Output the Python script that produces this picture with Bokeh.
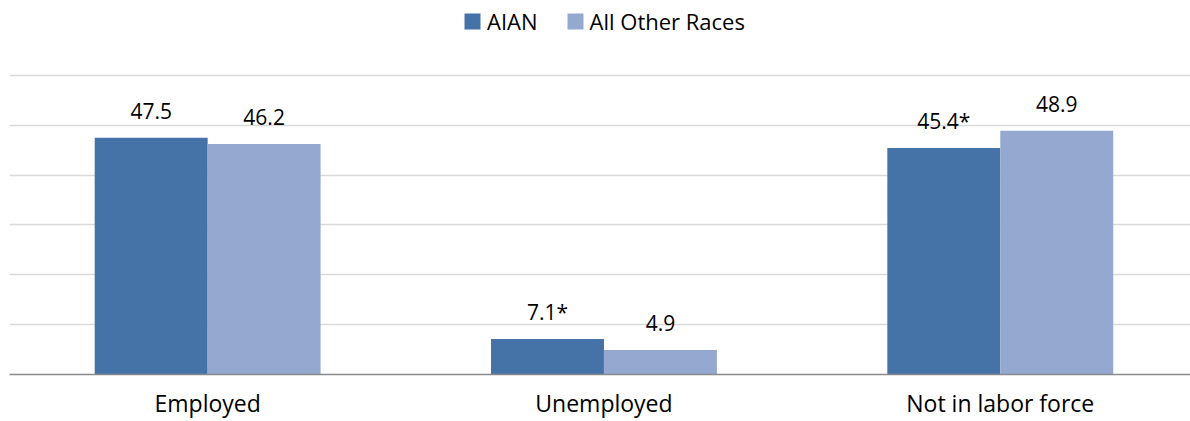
from bokeh.plotting import figure
from bokeh.models import ColumnDataSource, FixedTicker, Grid, Legend, LegendItem, Range1d
from bokeh.transform import dodge
from bokeh.core.properties import value
from bokeh.embed import file_html
from bokeh.resources import INLINE

categories = ["Employed", "Unemployed", "Not in labor force"]
aian = [47.5, 7.1, 45.4]
aian_labels = ["47.5", "7.1*", "45.4*"]
other = [46.2, 4.9, 48.9]
other_labels = ["46.2", "4.9", "48.9"]
series_names = ["AIAN", "All Other Races"]
colors = ["#4673A7", "#95A9D0"]
grid_ticks = [10, 20, 30, 40, 50, 60]

FONT = "Open Sans"
xpos = [i + 0.5 for i in range(len(categories))]

source = ColumnDataSource(dict(
    x=xpos, aian=aian, other=other,
    aian_lbl=aian_labels, other_lbl=other_labels,
))

p = figure(width=1190, height=421, output_backend="svg", toolbar_location=None,
           x_range=Range1d(0, 2.98), y_range=Range1d(0, 75.0),
           y_axis_location=None,
           min_border_left=9, min_border_right=0, min_border_top=0, min_border_bottom=46)
p.outline_line_color = None
p.xgrid.visible = False
for g in p.ygrid:
    g.visible = False

grid = Grid(dimension=1, ticker=FixedTicker(ticks=grid_ticks),
            grid_line_color="#d9d9d9", grid_line_width=1.5)
p.add_layout(grid)

bw = 0.285
r1 = p.vbar(x=dodge("x", -bw / 2), top="aian", width=bw, source=source,
            fill_color=colors[0], line_color=None)
r2 = p.vbar(x=dodge("x", bw / 2), top="other", width=bw, source=source,
            fill_color=colors[1], line_color=None)

p.text(x=dodge("x", -bw / 2), y="aian", text="aian_lbl", source=source,
       text_align="center", text_baseline="alphabetic", y_offset=-27,
       text_font=value(FONT), text_font_size="21px", text_color="#000000")
p.text(x=dodge("x", bw / 2), y="other", text="other_lbl", source=source,
       text_align="center", text_baseline="alphabetic", y_offset=-27,
       text_font=value(FONT), text_font_size="21px", text_color="#000000")

ax = p.xaxis[0]
ax.ticker = FixedTicker(ticks=xpos)
ax.major_label_overrides = {xv: c for xv, c in zip(xpos, categories)}
ax.major_tick_line_color = None
ax.minor_tick_line_color = None
ax.major_tick_in = 0
ax.major_tick_out = 0
ax.axis_line_color = "#898989"
ax.axis_line_width = 1.5
ax.major_label_text_font = FONT
ax.major_label_text_font_size = "23px"
ax.major_label_text_color = "#000000"
ax.major_label_standoff = 12

legend = Legend(items=[LegendItem(label=series_names[0], renderers=[r1]),
                       LegendItem(label=series_names[1], renderers=[r2])],
                orientation="horizontal", location=(453, 338),
                padding=0, margin=0, spacing=27, label_standoff=5,
                glyph_width=20, glyph_height=20,
                label_text_font=FONT, label_text_font_size="22px",
                label_text_color="#000000",
                background_fill_alpha=0, border_line_color=None)
p.add_layout(legend, "center")

open("out.html", "w").write(file_html(p, INLINE))
